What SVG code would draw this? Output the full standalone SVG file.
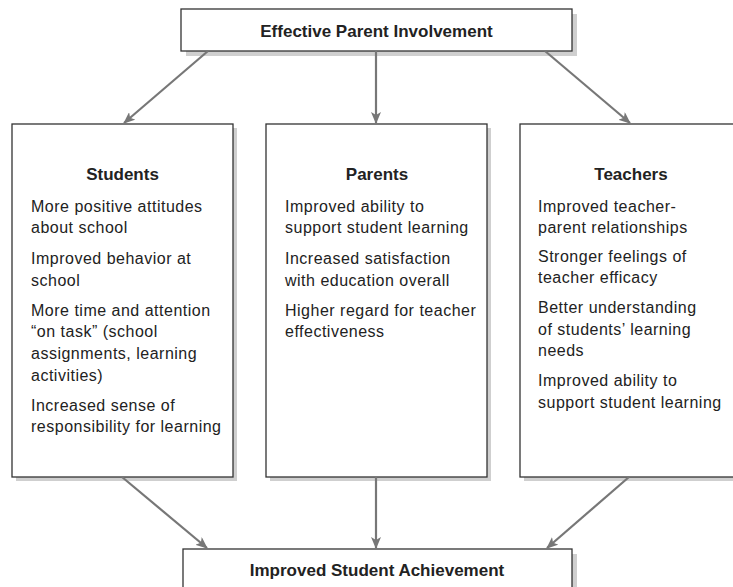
<svg xmlns="http://www.w3.org/2000/svg" width="733" height="587" viewBox="0 0 733 587">
<style>
.box{fill:#fff;stroke:#333;stroke-width:1.3}
.sh{fill:#cfcfcf}
.title{font-family:"Liberation Sans",Arial,sans-serif;font-weight:bold;font-size:17px;fill:#222;text-anchor:middle}
.body{font-family:"Liberation Sans",Arial,sans-serif;font-size:16px;letter-spacing:0.5px;fill:#222}
.conn line{stroke:#777;stroke-width:2.2}
</style>
<defs>
<marker id="ah" viewBox="0 0 12 10" refX="11" refY="5" markerWidth="12" markerHeight="10" markerUnits="userSpaceOnUse" orient="auto">
<path d="M0,0 L12,5 L0,10 L3,5 Z" fill="#777"/>
</marker>
</defs>
<g id="top">
<rect class="sh" x="186" y="14" width="391" height="42"/>
<rect class="box" x="181" y="9" width="391" height="42"/>
<text class="title" x="376.5" y="37">Effective Parent Involvement</text>
</g>
<g id="students">
<rect class="sh" x="16" y="128" width="221" height="353"/>
<rect class="box" x="12" y="124" width="221" height="353"/>
<text class="title" x="122.5" y="180">Students</text>
<text class="body" x="31" y="212">More positive attitudes</text>
<text class="body" x="31" y="233">about school</text>
<text class="body" x="31" y="264">Improved behavior at</text>
<text class="body" x="31" y="286">school</text>
<text class="body" x="31" y="316">More time and attention</text>
<text class="body" x="31" y="337">“on task” (school</text>
<text class="body" x="31" y="359">assignments, learning</text>
<text class="body" x="31" y="381">activities)</text>
<text class="body" x="31" y="411">Increased sense of</text>
<text class="body" x="31" y="432">responsibility for learning</text>
</g>
<g id="parents">
<rect class="sh" x="270" y="128" width="221" height="353"/>
<rect class="box" x="266" y="124" width="221" height="353"/>
<text class="title" x="377" y="180">Parents</text>
<text class="body" x="285" y="212">Improved ability to</text>
<text class="body" x="285" y="233">support student learning</text>
<text class="body" x="285" y="264">Increased satisfaction</text>
<text class="body" x="285" y="286">with education overall</text>
<text class="body" x="285" y="316">Higher regard for teacher</text>
<text class="body" x="285" y="337">effectiveness</text>
</g>
<g id="teachers">
<rect class="sh" x="524" y="128" width="221" height="353"/>
<rect class="box" x="520" y="124" width="221" height="353"/>
<text class="title" x="631" y="180">Teachers</text>
<text class="body" x="538" y="212">Improved teacher-</text>
<text class="body" x="538" y="233">parent relationships</text>
<text class="body" x="538" y="262">Stronger feelings of</text>
<text class="body" x="538" y="283">teacher efficacy</text>
<text class="body" x="538" y="313">Better understanding</text>
<text class="body" x="538" y="335">of students’ learning</text>
<text class="body" x="538" y="356">needs</text>
<text class="body" x="538" y="386">Improved ability to</text>
<text class="body" x="538" y="408">support student learning</text>
</g>
<g id="achievement">
<rect class="sh" x="188" y="554" width="389" height="40"/>
<rect class="box" x="183" y="549" width="389" height="45"/>
<text class="title" x="377" y="576">Improved Student Achievement</text>
</g>
<g class="conn">
<line x1="208" y1="51" x2="124" y2="123" marker-end="url(#ah)"/>
<line x1="376" y1="51" x2="376" y2="123" marker-end="url(#ah)"/>
<line x1="545" y1="51" x2="630" y2="123" marker-end="url(#ah)"/>
<line x1="122" y1="477" x2="207" y2="548" marker-end="url(#ah)"/>
<line x1="376" y1="477" x2="376" y2="548" marker-end="url(#ah)"/>
<line x1="629" y1="477" x2="547" y2="548" marker-end="url(#ah)"/>
</g>
</svg>
